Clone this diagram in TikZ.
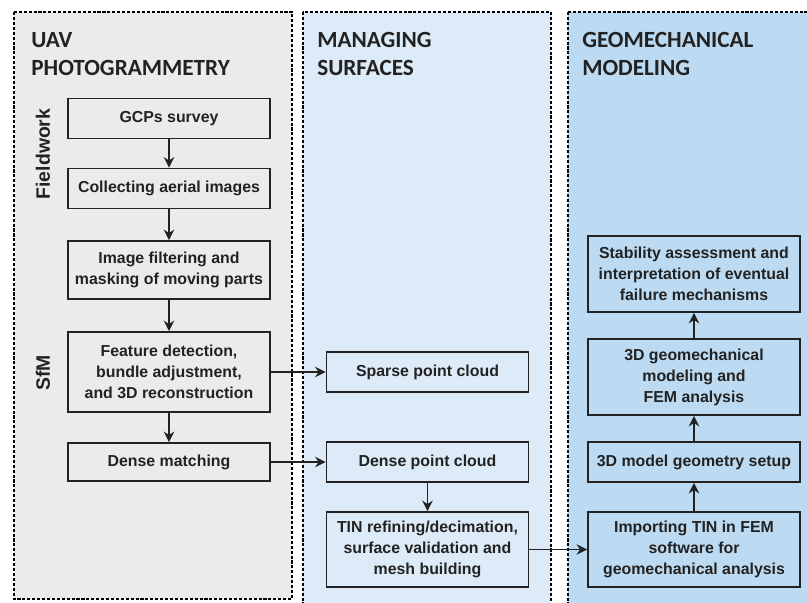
\documentclass[tikz,border=0pt]{standalone}
\usepackage{fontspec}
\setmainfont{Liberation Sans}
\newfontfamily\headfont{Carlito}
\usepackage{xcolor}
\usetikzlibrary{arrows.meta,positioning}

\definecolor{panelgray}{HTML}{EBEBEB}
\definecolor{panelblue}{HTML}{DCEBF7}
\definecolor{paneldeep}{HTML}{BCDAF1}
\definecolor{inkgray}{HTML}{222222}

\begin{document}
\begin{tikzpicture}[
    panel/.style={draw=black, line width=1pt, dash pattern=on 2.2pt off 1.3pt},
    phase/.style={anchor=north west, inner sep=0pt, align=left, text=inkgray, font=\headfont\bfseries\fontsize{16.5}{19.9}\selectfont},
    stepbox/.style={rectangle, draw=inkgray, line width=1.2pt, minimum width=5.05cm, minimum height=1cm, inner sep=2pt, align=center, text=inkgray, font=\bfseries\fontsize{11.3}{15}\selectfont},
    widebox/.style={stepbox, minimum width=5.3cm},
    side/.style={rotate=90, text=inkgray, font=\bfseries\fontsize{13.8}{15}\selectfont},
    flow/.style={-{Stealth[length=7.5pt,width=7.5pt]}, line width=1.1pt, draw=inkgray}
]
    \useasboundingbox (0,0) rectangle (20.175,-15.075);

    % Panels
    \fill[panelgray] (0.35,-0.3) rectangle (7.3,-14.975);
    \draw[panel] (0.35,-0.3) rectangle (7.3,-14.975);
    \fill[panelblue] (7.575,-0.3) rectangle (13.775,-15.2);
    \draw[panel] (7.575,-0.3) rectangle (13.775,-15.2);
    \fill[paneldeep] (14.2,-0.3) rectangle (20.5,-15.2);
    \draw[panel] (14.2,-0.3) rectangle (20.5,-15.2);

    % Headers
    \node[phase] (uav) at (0.775,-0.8) {UAV\\PHOTOGRAMMETRY};
    \node[phase] (manage) at (7.925,-0.8) {MANAGING\\SURFACES};
    \node[phase] (geomech) at (14.55,-0.8) {GEOMECHANICAL\\MODELING};

    % Side labels
    \node[side] (field) at (1.075,-3.85) {Fieldwork};
    \node[side] (sfmlabel) at (1.075,-9.325) {SfM};

    % UAV photogrammetry
    \node[stepbox] (gcp) at (4.225,-2.9625) {GCPs survey};
    \node[stepbox] (aerial) at (4.225,-4.7125) {Collecting aerial images};
    \node[stepbox, minimum height=1.45cm] (filter) at (4.225,-6.75) {Image filtering and\\masking of moving parts};
    \node[stepbox, minimum height=2cm] (sfm) at (4.225,-9.3) {Feature detection,\\bundle adjustment,\\and 3D reconstruction};
    \node[stepbox, minimum height=0.95cm] (matching) at (4.225,-11.55) {Dense matching};

    % Managing surfaces
    \node[stepbox] (sparse) at (10.6875,-9.3) {Sparse point cloud};
    \node[stepbox] (densepc) at (10.6875,-11.55) {Dense point cloud};
    \node[stepbox, minimum height=1.875cm] (tin) at (10.6875,-13.7375) {TIN refining/decimation,\\surface validation and\\mesh building};

    % Geomechanical modeling
    \node[widebox, minimum height=1.9cm] (stab) at (17.35,-6.85) {Stability assessment and\\interpretation of eventual\\failure mechanisms};
    \node[widebox, minimum height=1.9cm] (geo) at (17.35,-9.425) {3D geomechanical\\modeling and\\FEM analysis};
    \node[widebox] (setup) at (17.35,-11.55) {3D model geometry setup};
    \node[widebox, minimum height=1.875cm] (import) at (17.35,-13.7375) {Importing TIN in FEM\\software for\\geomechanical analysis};

    % Connections
    \draw[flow] (gcp) -- (aerial);
    \draw[flow] (aerial) -- (filter);
    \draw[flow] (filter) -- (sfm);
    \draw[flow] (sfm) -- (matching);

    \draw[flow] (sfm) -- (sparse);
    \draw[flow] (matching) -- (densepc);
    \draw[flow] (densepc) -- (tin);
    \draw[flow] (tin) -- (import);

    \draw[flow] (import) -- (setup);
    \draw[flow] (setup) -- (geo);
    \draw[flow] (geo) -- (stab);
\end{tikzpicture}
\end{document}
